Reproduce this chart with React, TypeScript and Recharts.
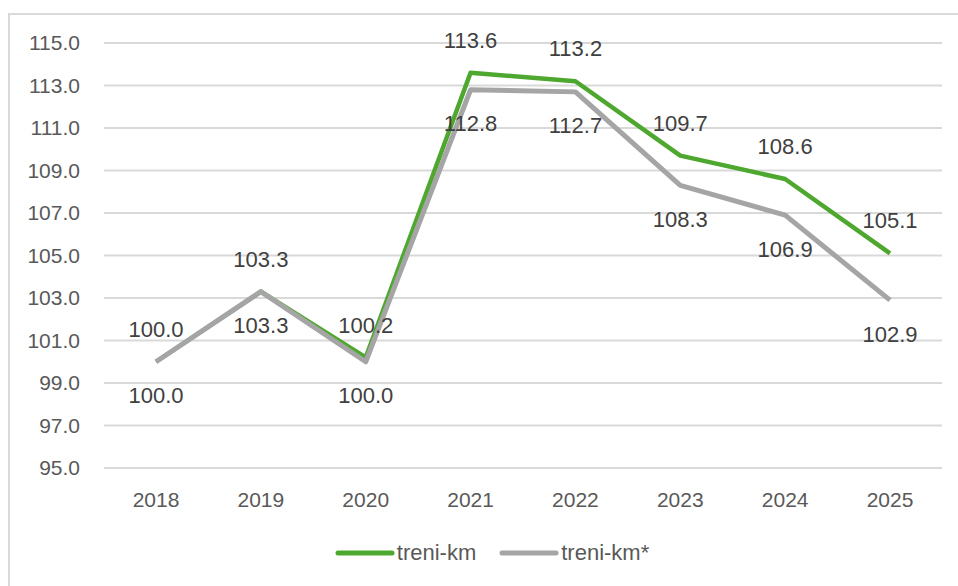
import React from 'react';
import { LineChart, Line, XAxis, YAxis, CartesianGrid, LabelList } from 'recharts';

// Years on the horizontal axis
const years = ['2018', '2019', '2020', '2021', '2022', '2023', '2024', '2025'];

// Index values (2018 = 100)
const treniKm = [100.0, 103.3, 100.2, 113.6, 113.2, 109.7, 108.6, 105.1];
const treniKmStar = [100.0, 103.3, 100.0, 112.8, 112.7, 108.3, 106.9, 102.9];

const yTicks = [95, 97, 99, 101, 103, 105, 107, 109, 111, 113, 115];

const seriesNames = ['treni-km', 'treni-km*'];
const seriesColors = ['#4EA72E', '#A5A5A5'];

const FONT = '"Liberation Sans", Arial, sans-serif';

const data = years.map((year, i) => ({
  year,
  a: treniKm[i],
  b: treniKmStar[i],
}));

const fmt = (v: any) => Number(v).toFixed(1);

const LegendRow = () => (
  <div
    style={{
      position: 'absolute',
      left: 0,
      top: 540,
      width: 958,
      display: 'flex',
      justifyContent: 'center',
      paddingLeft: 26,
      boxSizing: 'border-box',
      fontFamily: FONT,
      fontSize: 22,
      color: '#595959',
    }}
  >
    {seriesNames.map((name, i) => (
      <div key={name} style={{ display: 'flex', alignItems: 'center', marginRight: i === 0 ? 23 : 0 }}>
        <svg width={60} height={10} style={{ marginRight: 2 }}>
          <line x1={3} y1={5} x2={57} y2={5} stroke={seriesColors[i]} strokeWidth={5} strokeLinecap="round" />
        </svg>
        <span style={{ lineHeight: '26px' }}>{name}</span>
      </div>
    ))}
  </div>
);

const App = () => {
  return (
    <div
      style={{
        position: 'absolute',
        left: 0,
        top: 0,
        width: 958,
        height: 586,
        overflow: 'hidden',
        background: '#fff',
      }}
    >
      <div
        style={{
          position: 'absolute',
          left: 8,
          top: 13,
          width: 980,
          height: 600,
          border: '2px solid #d9d9d9',
        }}
      />
      <div style={{ position: 'absolute', left: 0, top: 0 }}>
        <LineChart width={958} height={586} data={data} margin={{ top: 43, right: 16, bottom: 88, left: 0 }}>
          <CartesianGrid vertical={false} stroke="#d9d9d9" strokeWidth={2} />
          <XAxis
            dataKey="year"
            axisLine={false}
            tickLine={false}
            height={30}
            tickMargin={18}
            padding={{ left: 52, right: 52 }}
            tick={{ fill: '#595959', fontSize: 21, fontFamily: FONT }}
          />
          <YAxis
            domain={[95, 115]}
            ticks={yTicks}
            width={104}
            axisLine={false}
            tickLine={false}
            tickMargin={18}
            tickFormatter={fmt}
            tick={{ fill: '#595959', fontSize: 21, fontFamily: FONT }}
          />
          <Line
            dataKey="a"
            name={seriesNames[0]}
            stroke={seriesColors[0]}
            strokeWidth={4.5}
            dot={false}
            strokeLinejoin="round"
            isAnimationActive={false}
          >
            <LabelList
              dataKey="a"
              position="top"
              offset={25}
              formatter={fmt}
              style={{ fill: '#404040', fontSize: 22, fontFamily: FONT }}
            />
          </Line>
          <Line
            dataKey="b"
            name={seriesNames[1]}
            stroke={seriesColors[1]}
            strokeWidth={5}
            dot={false}
            strokeLinejoin="round"
            isAnimationActive={false}
          >
            <LabelList
              dataKey="b"
              position="bottom"
              offset={26}
              formatter={fmt}
              style={{ fill: '#404040', fontSize: 22, fontFamily: FONT }}
            />
          </Line>
        </LineChart>
      </div>
      <LegendRow />
    </div>
  );
};

export default App;
